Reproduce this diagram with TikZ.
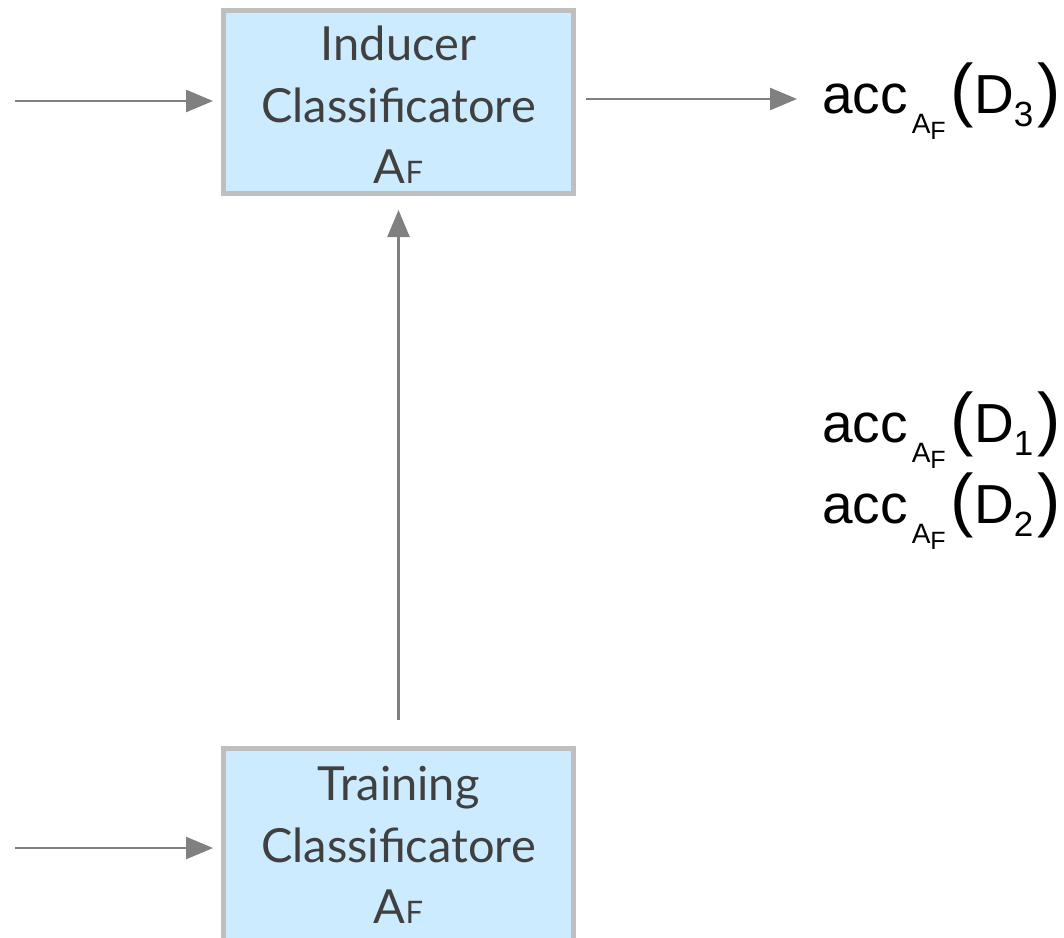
\documentclass[tikz,border=0pt]{standalone}
\usepackage{fontspec}
\setmainfont{Lato}
\newfontfamily\arialf{Liberation Sans}
\usetikzlibrary{arrows.meta}
\definecolor{boxfill}{HTML}{CCEBFF}
\definecolor{boxline}{HTML}{BFBFBF}
\definecolor{txtgray}{HTML}{404040}
\definecolor{arrgray}{HTML}{808080}
\newcommand{\accl}[1]{{\fontsize{55}{55}\selectfont acc}\hspace{4pt}\raisebox{-20pt}{\fontsize{28}{28}\selectfont A\raisebox{-6pt}{\fontsize{25}{25}\selectfont F}}\hspace{5pt}{\fontsize{70}{70}\selectfont (}{\fontsize{55}{55}\selectfont D}\raisebox{-13pt}{\fontsize{35}{35}\selectfont #1}\hspace{4pt}{\fontsize{70}{70}\selectfont )}}
\newcommand{\afl}{{\fontsize{47}{47}\selectfont A}{\fontsize{31}{31}\selectfont F}}
\tikzset{
  blockbox/.style={draw=boxline, fill=boxfill, line width=5pt, rectangle, minimum width=350pt, inner sep=0pt},
  boxtxt/.style={text=txtgray, font=\fontsize{47}{47}\selectfont, anchor=base, inner sep=0pt},
  acclbl/.style={font=\arialf, text=black, anchor=base west, inner sep=0pt},
  arr/.style={draw=arrgray, line width=2.5pt, -{Triangle[length=27pt,width=22pt]}}
}
\begin{document}
\begin{tikzpicture}[x=1pt,y=-1pt]
\useasboundingbox (0,0) rectangle (1064,937);
\clip (0,0) rectangle (1064,937);
\fill[white] (0,0) rectangle (1064,937);
% boxes
\node[blockbox, minimum height=183pt] (ind) at (398.5,102) {};
\node[blockbox, minimum height=200pt] (trn) at (398.5,848.5) {};
% box texts
\node[boxtxt] (ind1) at (398.5,60) {Inducer};
\node[boxtxt] (ind2) at (398.5,122) {Classificatore};
\node[boxtxt] (ind3) at (398.5,183) {\afl};
\node[boxtxt] (trn1) at (398.5,800) {Training};
\node[boxtxt] (trn2) at (398.5,862) {Classificatore};
\node[boxtxt] (trn3) at (398.5,923) {\afl};
% acc labels
\node[acclbl] (acc3) at (822,113) {\accl{3}};
\node[acclbl] (acc1) at (822,442) {\accl{1}};
\node[acclbl] (acc2) at (822,523) {\accl{2}};
% coordinates
\coordinate (in1) at (15,101);
\coordinate (in2) at (15,848);
% arrows
\draw[arr, shorten >=8pt] (in1) -- (in1 -| ind.west);
\draw[arr, shorten >=8pt] (in2) -- (in2 -| trn.west);
\draw[arr] ([shift={(10,-3)}]ind.east) -- ([shift={(-25,0)}]acc3.west |- 0,99);
\draw[arr, shorten <=26pt, shorten >=14pt] (trn.north) -- (ind.south);
\end{tikzpicture}
\end{document}
